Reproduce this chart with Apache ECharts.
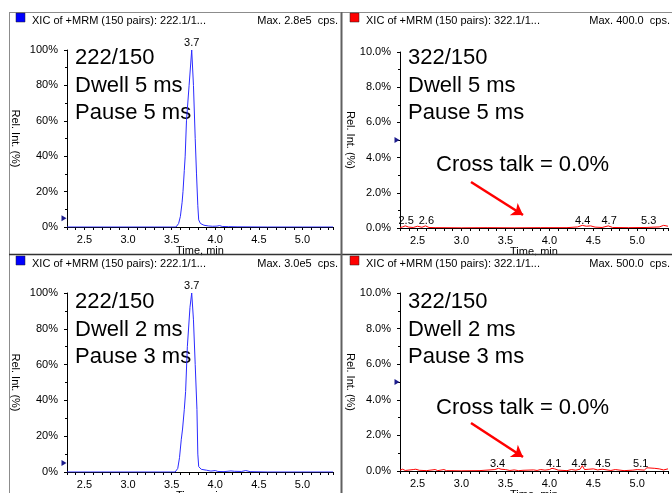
<!DOCTYPE html>
<html>
<head>
<meta charset="utf-8">
<script src="https://cdn.jsdelivr.net/npm/echarts@6/dist/echarts.min.js"></script>
<style>html,body{margin:0;padding:0;background:#fff}#chart{width:672px;height:493px}</style>
</head>
<body>
<div id="chart"></div>
<script>
// 222/150 dwell 5 ms (top left)
var tA = [2.3, 2.6, 3.0, 3.3, 3.55, 3.58, 3.60, 3.62, 3.63, 3.645, 3.655, 3.67, 3.70, 3.73, 3.75, 3.77, 3.785, 3.80, 3.81, 3.83, 3.87, 3.92, 3.97, 4.02, 4.05, 4.08, 4.15, 4.25, 4.6, 5.0, 5.35];
var yA = [0, 0, 0, 0, 0, 2, 6, 14, 20, 32, 40, 60, 80, 100, 80, 50, 30, 12, 4, 2, 1, 0.6, 0.4, 0.5, 0.8, 0.3, 0.2, 0.1, 0, 0, 0];
// 222/150 dwell 2 ms (bottom left)
var tB = [2.3, 3.0, 3.54, 3.57, 3.59, 3.61, 3.625, 3.645, 3.66, 3.68, 3.71, 3.73, 3.75, 3.77, 3.79, 3.80, 3.81, 3.84, 3.9, 3.95, 3.97, 4.0, 4.03, 4.1, 4.18, 4.22, 4.3, 4.35, 4.4, 4.6, 5.35];
var yB = [0, 0, 0, 2, 8, 18, 24, 35, 45, 70, 92, 100, 85, 60, 35, 10, 3, 1.5, 1, 0.5, 1, 0.8, 0.3, 0.2, 0.6, 0.4, 0.3, 0.8, 0.2, 0, 0];
// 322/150 dwell 5 ms (top right)
var tC = [2.3, 2.33, 2.36, 2.4, 2.45, 2.5, 2.55, 2.59, 2.63, 2.7, 3.0, 3.3, 3.6, 3.9, 4.2, 4.32, 4.375, 4.42, 4.47, 4.52, 4.6, 4.67, 4.72, 4.9, 5.1, 5.25, 5.3, 5.35];
var yC = [0.03, 0.06, 0.12, 0.05, 0.03, 0.1, 0.04, 0.12, 0.03, 0.02, 0.01, 0.02, 0.01, 0.02, 0.02, 0.06, 0.15, 0.1, 0.12, 0.05, 0.03, 0.12, 0.03, 0.02, 0.03, 0.06, 0.15, 0.1];
// 322/150 dwell 2 ms (bottom right)
var tD = [2.3, 2.33, 2.36, 2.45, 2.48, 2.52, 2.6, 2.7, 2.73, 2.8, 2.83, 3.0, 3.2, 3.38, 3.42, 3.45, 3.5, 3.55, 3.6, 3.65, 3.7, 3.82, 3.86, 3.9, 3.95, 4.0, 4.03, 4.06, 4.1, 4.2, 4.25, 4.3, 4.35, 4.375, 4.4, 4.45, 4.5, 4.55, 4.6, 4.7, 4.75, 4.85, 4.95, 5.0, 5.08, 5.11, 5.2, 5.25, 5.3, 5.35];
var yD = [0.05, 0.1, 0.03, 0.08, 0.1, 0.04, 0.02, 0.08, 0.02, 0.08, 0.02, 0.01, 0.02, 0.08, 0.15, 0.1, 0.08, 0.03, 0.06, 0.02, 0.04, 0.06, 0.03, 0.08, 0.05, 0.08, 0.15, 0.12, 0.05, 0.02, 0.08, 0.05, 0.1, 0.3, 0.08, 0.1, 0.12, 0.06, 0.1, 0.03, 0.08, 0.02, 0.05, 0.08, 0.05, 0.18, 0.15, 0.12, 0.06, 0.12];

// peak labels (where they sit, and their text)
var labTA = [3.73], labVA = [100], labSA = ['3.7'];
var labTB = [3.73], labVB = [100], labSB = ['3.7'];
var labTC = [2.37, 2.6, 4.38, 4.68, 5.13], labSC = ['2.5', '2.6', '4.4', '4.7', '5.3'];
var labTD = [3.41, 4.05, 4.34, 4.61, 5.04], labSD = ['3.4', '4.1', '4.4', '4.5', '5.1'];

var xTickLabels = ['2.5', '3.0', '3.5', '4.0', '4.5', '5.0'];
var titles = ['XIC of +MRM (150 pairs): 222.1/1...', 'XIC of +MRM (150 pairs): 322.1/1...', 'XIC of +MRM (150 pairs): 222.1/1...', 'XIC of +MRM (150 pairs): 322.1/1...'];
var maxTexts = ['Max. 2.8e5  cps.', 'Max. 400.0  cps.', 'Max. 3.0e5  cps.', 'Max. 500.0  cps.'];
var notes = [['222/150', 'Dwell 5 ms', 'Pause 5 ms'], ['322/150', 'Dwell 5 ms', 'Pause 5 ms'], ['222/150', 'Dwell 2 ms', 'Pause 3 ms'], ['322/150', 'Dwell 2 ms', 'Pause 3 ms']];
var crossTalk = 'Cross talk = 0.0%';

var FONT = '"Liberation Sans", Arial, sans-serif';

function zip(t, y) { return t.map(function (v, i) { return [v, y[i]]; }); }
function pctLeft(v) { return v + '%'; }
function pctRight(v) { return v.toFixed(1) + '%'; }

var panels = [
  { grid: { left: 67, top: 50, width: 266, height: 177 }, data: zip(tA, yA), color: '#2b2bff', ymax: 100, yint: 20, fmt: pctLeft, labT: labTA, labV: labVA, labS: labSA, nameGap: 46 },
  { grid: { left: 400, top: 52, width: 268, height: 176 }, data: zip(tC, yC), color: '#ff0000', ymax: 10, yint: 2, fmt: pctRight, labT: labTC, labV: null, labS: labSC, nameGap: 43, arrow: [[3.108, 2.61], [3.70, 0.74]] },
  { grid: { left: 67, top: 293, width: 266, height: 179 }, data: zip(tB, yB), color: '#2b2bff', ymax: 100, yint: 20, fmt: pctLeft, labT: labTB, labV: labVB, labS: labSB, nameGap: 46 },
  { grid: { left: 400, top: 293, width: 268, height: 178 }, data: zip(tD, yD), color: '#ff0000', ymax: 10, yint: 2, fmt: pctRight, labT: labTD, labV: null, labS: labSD, nameGap: 43, arrow: [[3.108, 2.70], [3.70, 0.79]] }
];

var chart = echarts.init(document.getElementById('chart'));

var grids = [], xAxes = [], yAxes = [], series = [];
panels.forEach(function (p, i) {
  grids.push(Object.assign({ outerBoundsMode: 'none', containLabel: false }, p.grid));
  xAxes.push({
    type: 'value', gridIndex: i, min: 2.3, max: 5.35, interval: 0.1,
    name: 'Time, min', nameLocation: 'middle', nameGap: 16,
    nameTextStyle: { fontSize: 11, color: '#000', fontFamily: FONT },
    axisLine: { onZero: false, lineStyle: { color: '#000', width: 1 } },
    axisTick: { show: true, length: 3, lineStyle: { color: '#000' } },
    axisLabel: {
      fontSize: 11, color: '#000', margin: 7, fontFamily: FONT, hideOverlap: false,
      formatter: function (v) { var s = v.toFixed(1); return xTickLabels.indexOf(s) >= 0 ? s : ''; }
    },
    splitLine: { show: false }
  });
  yAxes.push({
    type: 'value', gridIndex: i, min: 0, max: p.ymax, interval: p.yint,
    name: 'Rel. Int. (%)', nameLocation: 'middle', nameRotate: -90, nameGap: p.nameGap,
    nameTextStyle: { fontSize: 11, color: '#000', fontFamily: FONT },
    axisLine: { show: true, lineStyle: { color: '#000', width: 1 } },
    axisTick: { show: true, length: 3, lineStyle: { color: '#000' } },
    minorTick: { show: true, splitNumber: 2, length: 2, lineStyle: { color: '#000' } },
    axisLabel: { fontSize: 11, color: '#000', margin: 9, fontFamily: FONT, formatter: p.fmt },
    splitLine: { show: false }
  });

  var mp = p.labT.map(function (t, k) {
    return {
      coord: [t, p.labV ? p.labV[k] : 0], value: p.labS[k],
      symbol: 'circle', symbolSize: 0,
      label: { show: true, position: 'top', distance: 2, formatter: '{c}', color: '#000', fontSize: 11, fontFamily: FONT }
    };
  });
  // threshold marker on the y axis
  mp.push({
    coord: [2.3, 5], symbol: 'triangle', symbolSize: [6, 5], symbolRotate: -90, symbolOffset: [-3, 0],
    itemStyle: { color: '#1c1c8c' }, label: { show: false }
  });

  var s = {
    type: 'line', xAxisIndex: i, yAxisIndex: i, data: p.data,
    symbol: 'none', showSymbol: false, z: 3,
    lineStyle: { color: p.color, width: 1 }, itemStyle: { color: p.color },
    markPoint: { silent: true, data: mp }
  };
  if (p.arrow) {
    s.markLine = {
      silent: true, symbol: ['none', 'arrow'], symbolSize: 11,
      lineStyle: { color: '#ff0000', width: 2.5, type: 'solid' },
      itemStyle: { color: '#ff0000' },
      label: { show: false },
      data: [[{ coord: p.arrow[0] }, { coord: p.arrow[1] }]]
    };
  }
  series.push(s);
});

// frame, headers and notes
var g = [];
g.push({ type: 'rect', z: 100, shape: { x: 10, y: 255.5, width: 662, height: 24 }, style: { fill: '#fff' } });
g.push({ type: 'line', z: 101, shape: { x1: 9.5, y1: 12, x2: 9.5, y2: 493 }, style: { stroke: '#8c8c8c', lineWidth: 1 } });
g.push({ type: 'line', z: 101, shape: { x1: 9, y1: 12.5, x2: 672, y2: 12.5 }, style: { stroke: '#8c8c8c', lineWidth: 1 } });
g.push({ type: 'line', z: 101, shape: { x1: 9, y1: 254.5, x2: 672, y2: 254.5 }, style: { stroke: '#333', lineWidth: 1.5 } });
g.push({ type: 'line', z: 102, shape: { x1: 341.5, y1: 12, x2: 341.5, y2: 493 }, style: { stroke: '#606060', lineWidth: 2 } });

var hdr = [{ x: 16, y: 13, c: '#0000ff', r: 338 }, { x: 350, y: 13, c: '#ff0000', r: 670 }, { x: 16, y: 256, c: '#0000ff', r: 338 }, { x: 350, y: 256, c: '#ff0000', r: 670 }];
hdr.forEach(function (h, i) {
  g.push({ type: 'rect', z: 103, shape: { x: h.x, y: h.y, width: 9, height: 9 }, style: { fill: h.c, stroke: '#222', lineWidth: 0.5 } });
  g.push({ type: 'text', z: 103, x: h.x + 16, y: h.y + 8, style: { text: titles[i], fontSize: 11, fontFamily: FONT, fill: '#000', verticalAlign: 'middle', align: 'left' } });
  g.push({ type: 'text', z: 103, x: h.r, y: h.y + 8, style: { text: maxTexts[i], fontSize: 11, fontFamily: FONT, fill: '#000', verticalAlign: 'middle', align: 'right' } });
});

var notePos = [{ x: 75, y: [58, 86, 113] }, { x: 408, y: [58, 86, 113] }, { x: 75, y: [302, 330, 357] }, { x: 408, y: [302, 330, 357] }];
notePos.forEach(function (n, i) {
  notes[i].forEach(function (txt, k) {
    g.push({ type: 'text', z: 1, x: n.x, y: n.y[k], style: { text: txt, fontSize: 22, fontFamily: FONT, fill: '#000', verticalAlign: 'middle', align: 'left' } });
  });
});
[165, 408].forEach(function (yy) {
  g.push({ type: 'text', z: 1, x: 436, y: yy, style: { text: crossTalk, fontSize: 22, fontFamily: FONT, fill: '#000', verticalAlign: 'middle', align: 'left' } });
});

chart.setOption({
  animation: false,
  backgroundColor: '#fff',
  textStyle: { fontFamily: FONT },
  grid: grids,
  xAxis: xAxes,
  yAxis: yAxes,
  series: series,
  graphic: { elements: g }
});
</script>
</body>
</html>
